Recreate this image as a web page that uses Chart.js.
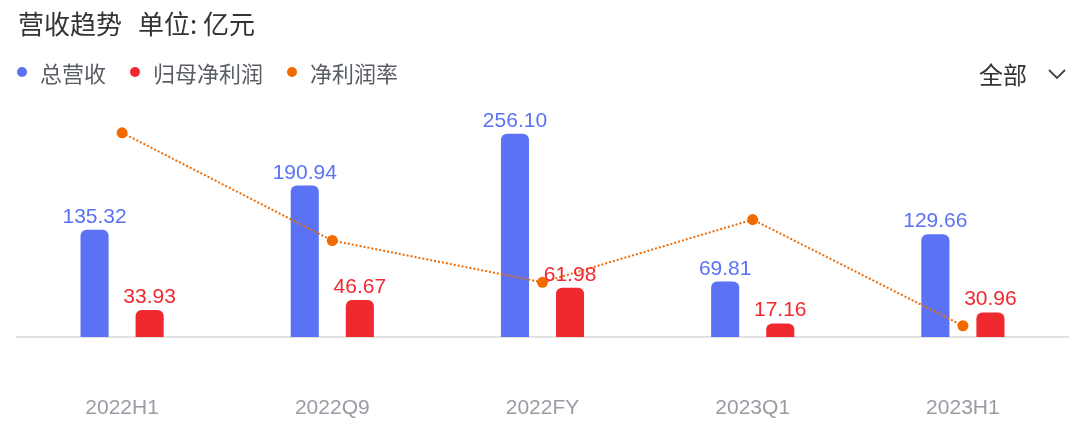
<!DOCTYPE html>
<html>
<head>
<meta charset="utf-8">
<script src="https://cdn.jsdelivr.net/npm/chart.js@4.4.0/dist/chart.umd.min.js"></script>
<style>
body { margin: 0; background: #fff; font-family: "Noto Sans CJK SC", "Noto Sans", sans-serif; }
#wrap { position: relative; width: 1080px; height: 426px; overflow: hidden; }
#title { position: absolute; left: 18px; top: 5px; font-size: 26px; line-height: 36px; color: #333; white-space: nowrap; }
#title .unit { margin-left: 16px; }
#legend { position: absolute; left: 17px; top: 57px; height: 30px; display: flex; align-items: center; font-size: 22px; color: #585c64; white-space: nowrap; }
#legend .item { display: flex; align-items: center; margin-right: 24px; }
#legend .dot { width: 10px; height: 10px; border-radius: 50%; margin-right: 13px; }
#filter { position: absolute; left: 979px; top: 58px; font-size: 24px; line-height: 32px; color: #333; display: flex; align-items: center; }
#filter svg { margin-left: 20px; }
#chart { position: absolute; left: 0; top: 0; width: 1080px; height: 426px; }
</style>
</head>
<body>
<div id="wrap">
    <canvas id="chart"></canvas>
    <div id="title">营收趋势<span class="unit">单位: 亿元</span></div>
    <div id="legend"></div>
    <div id="filter">全部<svg width="20" height="12" viewBox="0 0 20 12"><polyline points="2,2 10,10 18,2" fill="none" stroke="#444" stroke-width="1.8"/></svg></div>
</div>
<script>
// datos
const categorias = ['2022H1', '2022Q9', '2022FY', '2023Q1', '2023H1'];
const nombresSeries = ['总营收', '归母净利润', '净利润率'];
const totalRevenue = [135.32, 190.94, 256.10, 69.81, 129.66];
const netProfit = [33.93, 46.67, 61.98, 17.16, 30.96];
const netMargin = [25.07, 24.40, 24.14, 24.53, 23.87];

const colores = ['#5b72f5', '#f0292f', '#f06a00'];

/*** leyenda en html ***/
let legendHtml = '';
nombresSeries.map(function (nombre, index) {
    legendHtml += '<span class="item"><span class="dot" style="background:' + colores[index] + '"></span>' + nombre + '</span>';
});
document.getElementById('legend').innerHTML = legendHtml;

/*** etiquetas de valor sobre las barras ***/
const barLabels = {
    id: 'barLabels',
    afterDatasetsDraw(chart) {
        const ctx = chart.ctx;
        ctx.save();
        ctx.font = '21px "Liberation Sans", Arial, sans-serif';
        ctx.textAlign = 'center';
        ctx.textBaseline = 'alphabetic';
        chart.data.datasets.forEach(function (ds, i) {
            if (ds.type !== 'bar') return;
            const meta = chart.getDatasetMeta(i);
            ctx.fillStyle = ds.backgroundColor;
            meta.data.forEach(function (el, j) {
                ctx.fillText(ds.data[j].toFixed(2), el.x, el.y - 7);
            });
        });
        ctx.restore();
    }
};

let ctx = document.getElementById('chart').getContext('2d');
new Chart(ctx, {
    data: {
        labels: categorias,
        datasets: [
            {
                type: 'line',
                label: nombresSeries[2],
                data: netMargin,
                yAxisID: 'y1',
                borderColor: colores[2],
                backgroundColor: colores[2],
                borderWidth: 2,
                borderDash: [2, 2],
                pointRadius: 5.5,
                pointBackgroundColor: colores[2],
                pointBorderWidth: 0,
                tension: 0,
                order: 0
            },
            {
                type: 'bar',
                label: nombresSeries[0],
                data: totalRevenue,
                yAxisID: 'y',
                backgroundColor: colores[0],
                borderRadius: { topLeft: 6, topRight: 6, bottomLeft: 0, bottomRight: 0 },
                borderSkipped: false,
                barPercentage: 0.51,
                categoryPercentage: 0.524,
                order: 1
            },
            {
                type: 'bar',
                label: nombresSeries[1],
                data: netProfit,
                yAxisID: 'y',
                backgroundColor: colores[1],
                borderRadius: { topLeft: 6, topRight: 6, bottomLeft: 0, bottomRight: 0 },
                borderSkipped: false,
                barPercentage: 0.51,
                categoryPercentage: 0.524,
                order: 1
            }
        ]
    },
    options: {
        responsive: true,
        maintainAspectRatio: false,
        animation: false,
        layout: { padding: { top: 99, left: 17, right: 12, bottom: 0 } },
        plugins: {
            legend: { display: false },
            title: { display: false },
            tooltip: { enabled: false }
        },
        scales: {
            x: {
                grid: { display: false, drawTicks: false },
                border: { color: '#e2e2e2', width: 2 },
                ticks: {
                    color: '#9a9ca3',
                    padding: 59,
                    font: { size: 21, family: '"Liberation Sans", Arial, sans-serif' }
                },
                afterFit: function (scale) {
                    scale.height = 89;
                }
            },
            y: { display: false, min: 0, max: 300 },
            y1: { display: false, min: 23.80, max: 25.28 }
        }
    },
    plugins: [barLabels]
});
</script>
</body>
</html>
